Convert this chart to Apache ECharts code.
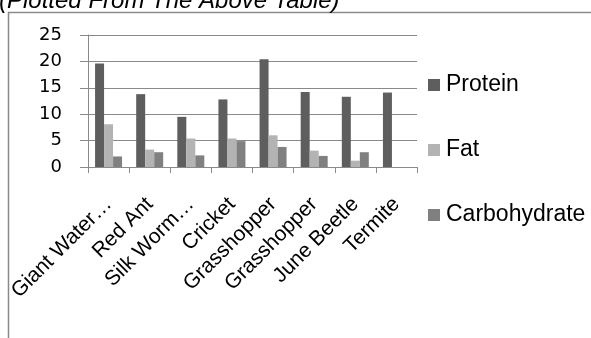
<!DOCTYPE html>
<html>
<head>
<meta charset="utf-8">
<script src="https://cdn.jsdelivr.net/npm/echarts@6/dist/echarts.min.js"></script>
<style>
  html, body { margin: 0; padding: 0; background: #fff; }
  #chart { width: 591px; height: 338px; }
</style>
</head>
<body>
<div id="chart"></div>
<script>
// Nutrient content of edible insects (per 100 g)
const categories = ['Giant Water…', 'Red Ant', 'Silk Worm…', 'Cricket', 'Grasshopper', 'Grasshopper', 'June Beetle', 'Termite'];
const protein = [19.6, 13.8, 9.5, 12.8, 20.4, 14.2, 13.3, 14.1];
const fat = [8.1, 3.3, 5.4, 5.4, 6.0, 3.1, 1.2, 0];
const carbohydrate = [2.0, 2.8, 2.2, 4.9, 3.8, 2.1, 2.8, 0];
const yTicks = [0, 5, 10, 15, 20, 25];

const lineGray = '#8a8a8a';
const chart = echarts.init(document.getElementById('chart'), null, { renderer: 'canvas' });

chart.setOption({
  animation: false,
  backgroundColor: '#ffffff',
  graphic: [
    { type: 'text', left: -1, top: -11, z: 10,
      style: { text: '(Plotted From The Above Table)', fill: '#000',
               font: 'italic 24px "Liberation Sans", Arial, sans-serif' } },
    { type: 'line', shape: { x1: 8, y1: 12.5, x2: 591, y2: 12.5 },
      style: { stroke: lineGray, lineWidth: 1.5 } },
    { type: 'line', shape: { x1: 8.5, y1: 12, x2: 8.5, y2: 338 },
      style: { stroke: lineGray, lineWidth: 1.5 } }
  ],
  grid: { left: 88, right: 174, top: 35, bottom: 171, containLabel: false },
  legend: {
    orient: 'vertical', left: 423, top: 68,
    itemWidth: 12, itemHeight: 12, itemGap: 41, icon: 'rect',
    textStyle: { fontFamily: '"Liberation Sans", Arial, sans-serif', fontSize: 23, color: '#000', lineHeight: 24, padding: [0, 0, 0, 1] },
    data: ['Protein', 'Fat', 'Carbohydrate']
  },
  xAxis: {
    type: 'category', data: categories,
    axisLine: { lineStyle: { color: lineGray, width: 1 } },
    axisTick: { show: true, length: 6, lineStyle: { color: lineGray } },
    axisLabel: { interval: 0, rotate: 45, margin: 34, color: '#000',
                 fontFamily: '"Liberation Sans", Arial, sans-serif', fontSize: 21 }
  },
  yAxis: {
    type: 'value', min: yTicks[0], max: yTicks[yTicks.length - 1], interval: 5,
    axisLine: { show: true, lineStyle: { color: lineGray, width: 1 } },
    axisTick: { show: true, length: 8, lineStyle: { color: lineGray } },
    splitLine: { lineStyle: { color: lineGray, width: 1 } },
    axisLabel: { margin: 26, color: '#000', fontFamily: '"DejaVu Sans", sans-serif', fontSize: 18 }
  },
  series: [
    { name: 'Protein', type: 'bar', data: protein, barWidth: 9, barGap: '0%', itemStyle: { color: '#5e5e5e' } },
    { name: 'Fat', type: 'bar', data: fat, barWidth: 9, barGap: '0%', itemStyle: { color: '#b3b3b3' } },
    { name: 'Carbohydrate', type: 'bar', data: carbohydrate, barWidth: 9, barGap: '0%', itemStyle: { color: '#808080' } }
  ]
});
</script>
</body>
</html>
